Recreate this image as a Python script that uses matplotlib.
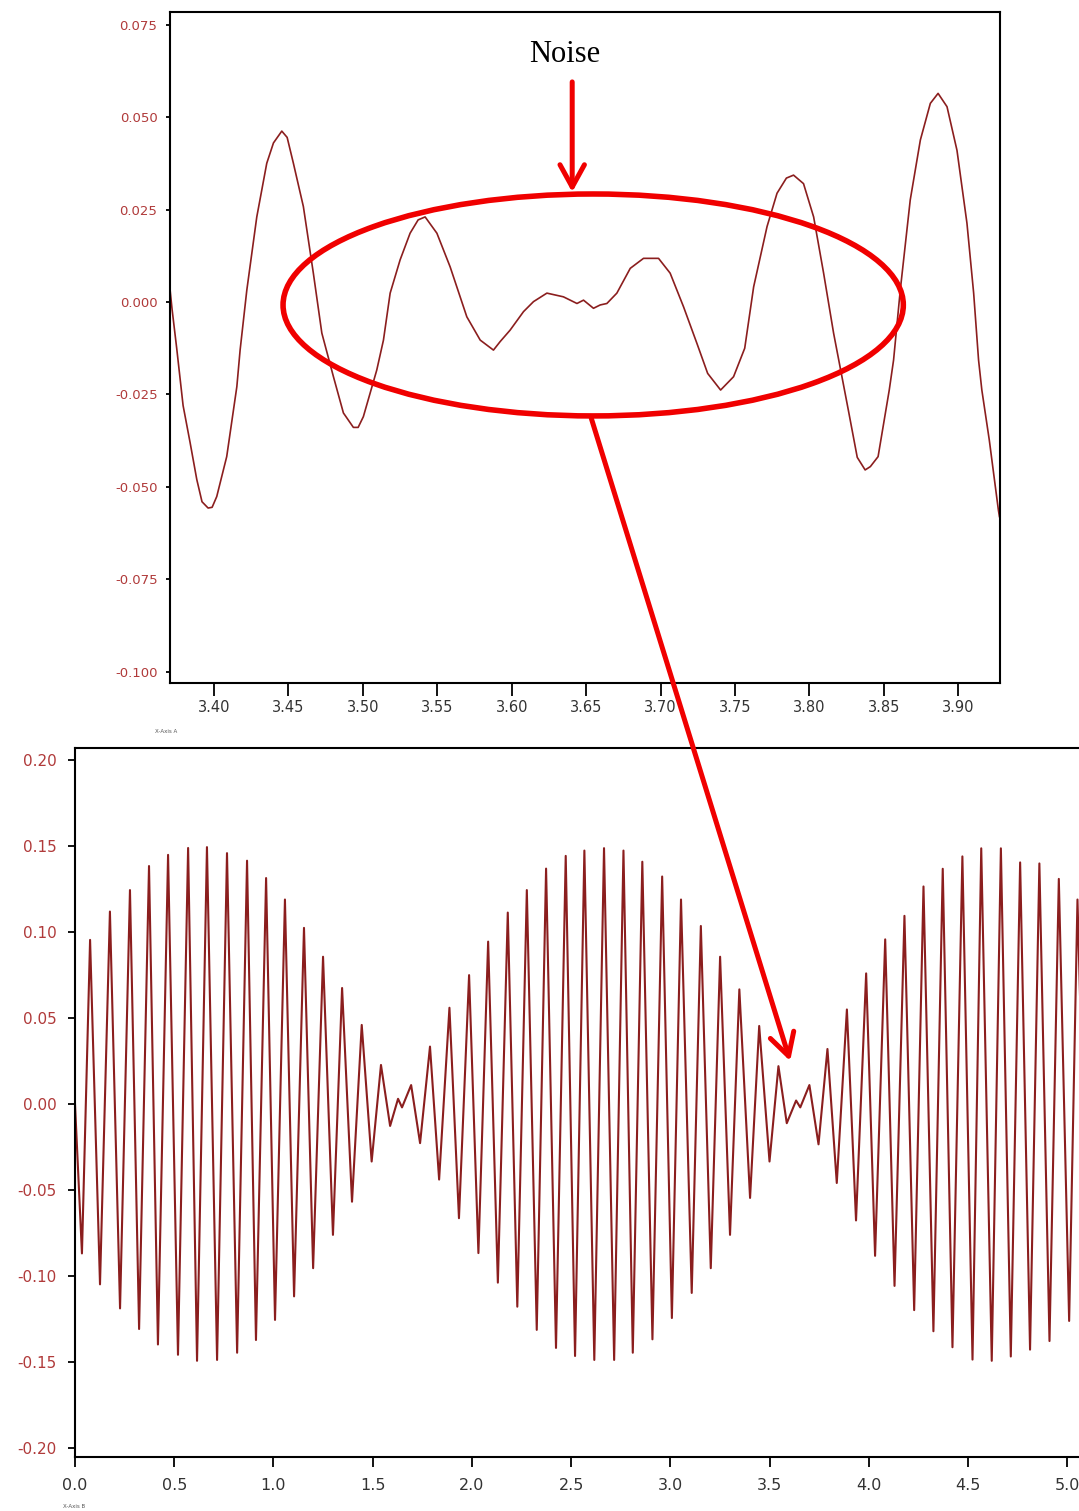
import numpy as np
import matplotlib
matplotlib.use('Agg')
import matplotlib.pyplot as plt
from matplotlib.patches import Ellipse, ConnectionPatch

# zoomed trace around the second beat node (time in s, amplitude)
zoom_t = [3.3704, 3.3718, 3.3749, 3.3792, 3.3839, 3.3884, 3.3919, 3.3960, 3.3987,
          3.4018, 3.4085, 3.4153, 3.4175, 3.4220, 3.4287, 3.4354, 3.4399, 3.4455,
          3.4491, 3.4533, 3.4600, 3.4667, 3.4724, 3.4802, 3.4869, 3.4936, 3.4968,
          3.5003, 3.5048, 3.5093, 3.5138, 3.5183, 3.5250, 3.5317, 3.5371, 3.5418,
          3.5497, 3.5586, 3.5698, 3.5788, 3.5877, 3.5922, 3.5989, 3.6079, 3.6146,
          3.6236, 3.6347, 3.6438, 3.6482, 3.6549, 3.6594, 3.6639, 3.6706, 3.6796,
          3.6885, 3.6986, 3.7064, 3.7154, 3.7244, 3.7316, 3.7403, 3.7490, 3.7565,
          3.7625, 3.7715, 3.7782, 3.7845, 3.7893, 3.7960, 3.8028, 3.8095, 3.8162,
          3.8261, 3.8321, 3.8374, 3.8409, 3.8461, 3.8536, 3.8565, 3.8610, 3.8677,
          3.8745, 3.8812, 3.8864, 3.8924, 3.8991, 3.9058, 3.9103, 3.9136, 3.9158,
          3.9208, 3.9269, 3.9276]
zoom_v = [0.0035, -0.0020, -0.0125, -0.0280, -0.0380, -0.0480, -0.0540, -0.0557, -0.0555,
          -0.0526, -0.0418, -0.0229, -0.0130, 0.0032, 0.0230, 0.0375, 0.0430, 0.0462,
          0.0445, 0.0375, 0.0258, 0.0078, -0.0084, -0.0202, -0.0300, -0.0339, -0.0339,
          -0.0310, -0.0247, -0.0184, -0.0103, 0.0024, 0.0114, 0.0186, 0.0222, 0.0230,
          0.0186, 0.0095, -0.0040, -0.0103, -0.0130, -0.0107, -0.0076, -0.0026, 0.0001,
          0.0024, 0.0014, -0.0004, 0.0005, -0.0017, -0.0008, -0.0004, 0.0024, 0.0091,
          0.0118, 0.0118, 0.0078, -0.0013, -0.0112, -0.0193, -0.0238, -0.0202, -0.0125,
          0.0041, 0.0204, 0.0294, 0.0335, 0.0343, 0.0320, 0.0230, 0.0078, -0.0084,
          -0.0292, -0.0420, -0.0454, -0.0445, -0.0418, -0.0238, -0.0157, 0.0032, 0.0276,
          0.0438, 0.0537, 0.0564, 0.0528, 0.0410, 0.0213, 0.0024, -0.0157, -0.0238,
          -0.0373, -0.0562, -0.0580]

# full beat signal: maxima and minima of each carrier cycle
peak_t = [0.076, 0.176, 0.277, 0.373, 0.469, 0.570, 0.665, 0.766, 0.867, 0.963,
          1.058, 1.154, 1.250, 1.346, 1.445, 1.542, 1.628, 1.694, 1.789, 1.887,
          1.986, 2.082, 2.181, 2.277, 2.374, 2.473, 2.567, 2.666, 2.764, 2.859,
          2.959, 3.054, 3.154, 3.251, 3.348, 3.448, 3.545, 3.634, 3.701, 3.792,
          3.890, 3.987, 4.083, 4.180, 4.276, 4.373, 4.472, 4.567, 4.666, 4.763,
          4.860, 4.958, 5.052]
peak_v = [0.0955, 0.1120, 0.1245, 0.1385, 0.1450, 0.1490, 0.1495, 0.1460, 0.1416, 0.1315,
          0.1190, 0.1025, 0.0857, 0.0675, 0.0460, 0.0227, 0.0030, 0.0110, 0.0334, 0.0560,
          0.0750, 0.0945, 0.1114, 0.1245, 0.1370, 0.1444, 0.1475, 0.1489, 0.1475, 0.1410,
          0.1324, 0.1190, 0.1036, 0.0857, 0.0667, 0.0454, 0.0220, 0.0020, 0.0110, 0.0320,
          0.0550, 0.0760, 0.0958, 0.1095, 0.1266, 0.1369, 0.1441, 0.1488, 0.1488, 0.1406,
          0.1400, 0.1310, 0.1190]
trough_t = [0.035, 0.126, 0.227, 0.323, 0.418, 0.519, 0.615, 0.716, 0.817, 0.912,
            1.008, 1.104, 1.200, 1.300, 1.396, 1.495, 1.588, 1.648, 1.739, 1.835,
            1.935, 2.033, 2.131, 2.229, 2.327, 2.424, 2.520, 2.617, 2.717, 2.811,
            2.910, 3.008, 3.108, 3.204, 3.301, 3.402, 3.500, 3.587, 3.655, 3.747,
            3.839, 3.936, 4.032, 4.130, 4.229, 4.326, 4.422, 4.523, 4.620, 4.716,
            4.813, 4.911, 5.010, 5.105]
trough_v = [-0.0870, -0.1050, -0.1190, -0.1310, -0.1400, -0.1460, -0.1495, -0.1490, -0.1448, -0.1374,
            -0.1257, -0.1120, -0.0956, -0.0762, -0.0569, -0.0335, -0.0128, -0.0020, -0.0228, -0.0440,
            -0.0665, -0.0868, -0.1040, -0.1180, -0.1315, -0.1420, -0.1467, -0.1490, -0.1490, -0.1448,
            -0.1370, -0.1246, -0.1100, -0.0956, -0.0762, -0.0547, -0.0335, -0.0112, -0.0020, -0.0235,
            -0.0460, -0.0678, -0.0884, -0.1059, -0.1200, -0.1323, -0.1416, -0.1488, -0.1495, -0.1470,
            -0.1430, -0.1380, -0.1263, -0.1120]

top_xticks = [3.40, 3.45, 3.50, 3.55, 3.60, 3.65, 3.70, 3.75, 3.80, 3.85, 3.90]
top_yticks = [0.075, 0.050, 0.025, 0.000, -0.025, -0.050, -0.075, -0.100]
bot_xticks = [0.0, 0.5, 1.0, 1.5, 2.0, 2.5, 3.0, 3.5, 4.0, 4.5, 5.0]
bot_yticks = [0.20, 0.15, 0.10, 0.05, 0.00, -0.05, -0.10, -0.15, -0.20]

TRACE = '#8b1e1e'
MARK = '#f00000'
YLAB = '#b03a3a'
XLAB = '#333333'

plt.rcParams['axes.unicode_minus'] = False

W, H = 1079, 1511
fig = plt.figure(figsize=(W / 100, H / 100), dpi=100)
fig.patch.set_facecolor('white')

ax_top = fig.add_axes([170 / W, 1 - 683 / H, 830 / W, 671 / H])
ax_bot = fig.add_axes([75 / W, 1 - 1457 / H, 1012 / W, 709 / H])

# --- zoomed panel ---
ax_top.plot(zoom_t, zoom_v, color=TRACE, lw=1.2)
ax_top.set_xlim(3.3704, 3.928)
ax_top.set_ylim(-0.103, 0.0784)
ax_top.set_xticks(top_xticks)
ax_top.set_xticklabels([f'{v:.2f}' for v in top_xticks])
ax_top.set_yticks(top_yticks)
ax_top.set_yticklabels([f'{v:.3f}' for v in top_yticks])
ax_top.tick_params(axis='y', length=3, width=1.3, pad=6, labelsize=9.5, labelcolor=YLAB)
ax_top.tick_params(axis='x', length=9, width=1.3, pad=3, labelsize=10.5, labelcolor=XLAB)
for s in ax_top.spines.values():
    s.set_linewidth(1.5)

# --- full signal panel ---
t_all = np.array([0.0] + peak_t + trough_t)
v_all = np.array([0.0] + peak_v + trough_v)
order = np.argsort(t_all)
ax_bot.plot(t_all[order], v_all[order], color=TRACE, lw=1.5)
ax_bot.set_xlim(0, 5.1)
ax_bot.set_ylim(-0.2055, 0.2072)
ax_bot.set_xticks(bot_xticks)
ax_bot.set_xticklabels([f'{v:.1f}' for v in bot_xticks])
ax_bot.set_yticks(bot_yticks)
ax_bot.set_yticklabels([f'{v:.2f}' for v in bot_yticks])
ax_bot.tick_params(axis='y', length=5, width=1.3, pad=8, labelsize=11, labelcolor=YLAB)
ax_bot.tick_params(axis='x', length=7, width=1.3, pad=8, labelsize=11.5, labelcolor=XLAB)
for s in ax_bot.spines.values():
    s.set_linewidth(1.5)

fig.text(155 / W, 1 - 733 / H, 'X-Axis A', fontsize=4, color='#555555')
fig.text(63 / W, 1 - 1508 / H, 'X-Axis B', fontsize=4, color='#555555')

# --- annotations: noise region and where it sits in the full signal ---
ax_top.add_patch(Ellipse((3.6547, -0.0008), 0.4167, 0.0600, fill=False,
                         ec=MARK, lw=4, clip_on=False, zorder=5))
ax_top.text(3.6358, 0.0670, 'Noise', ha='center', va='center', fontsize=22,
            family='Liberation Serif', color='black')
ax_top.annotate('', xy=(3.6406, 0.0297), xytext=(3.6406, 0.0595),
                arrowprops=dict(arrowstyle='->,head_length=1.0,head_width=0.55',
                                mutation_scale=16, lw=3.6, color=MARK,
                                shrinkA=0, shrinkB=0))
con = ConnectionPatch(xyA=(3.6534, -0.0314), coordsA=ax_top.transData,
                      xyB=(3.604, 0.025), coordsB=ax_bot.transData,
                      arrowstyle='->,head_length=1.0,head_width=0.55',
                      mutation_scale=16, lw=3.6, color=MARK,
                      shrinkA=0, shrinkB=0, zorder=6)
fig.add_artist(con)

fig.savefig('out.png', dpi=100)
